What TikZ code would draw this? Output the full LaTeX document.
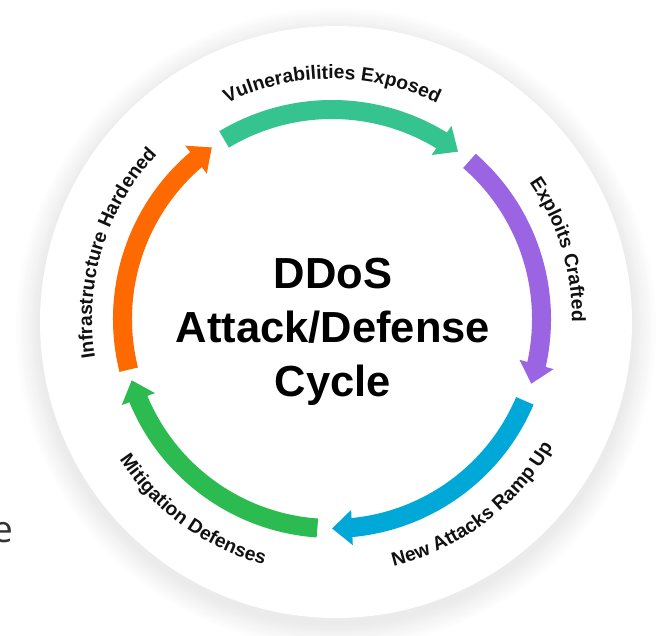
\documentclass[tikz,border=0pt]{standalone}
\usepackage{fontspec}
\setmainfont{Liberation Sans}
\newfontfamily\efont{Open Sans}
\usetikzlibrary{arrows.meta,bending,decorations.text}
\definecolor{cteal}{HTML}{35C38F}
\definecolor{cpurple}{HTML}{9B64E3}
\definecolor{cblue}{HTML}{00A8D8}
\definecolor{cgreen}{HTML}{2CBB50}
\definecolor{corange}{HTML}{FF6A00}
\definecolor{ctext}{HTML}{111111}
\newcommand\lbl{\color{ctext}\bfseries\fontsize{19.3}{22}\selectfont}
\tikzset{
  seg/.style={line width=19pt, -{Triangle[length=20pt,width=34pt]}},
  outlabel/.style={decorate, decoration={text along path, text align=center, text={|\lbl|#1}}},
}
\begin{document}
\begin{tikzpicture}[x=1pt,y=1pt]
\useasboundingbox (0,0) rectangle (659,-636);
\fill[white] (0,0) rectangle (659,-636);
\coordinate (SH) at (336,-328);
\coordinate (D) at (336,-322);
\foreach \k in {0,...,11}{
  \pgfmathsetmacro\rr{320-2*\k}
  \pgfmathsetmacro\cc{0.65*(\k+1)}
  \fill[black!\cc] (SH) circle[radius=\rr pt];
}
\fill[white] (D) circle[radius=296pt];
\coordinate (C) at (332,-319);
\begin{scope}[shift={(C)}]
  \draw[seg, cteal]   (121:209.5pt) arc[start angle=121, end angle=53, radius=209.5pt];
  \draw[seg, cpurple] (49:209.5pt)  arc[start angle=49, end angle=-18, radius=209.5pt];
  \draw[seg, cblue]   (-23:209.5pt) arc[start angle=-23, end angle=-90, radius=209.5pt];
  \draw[seg, cgreen]  (-94:209.5pt) arc[start angle=-94, end angle=-163, radius=209.5pt];
  \draw[seg, corange] (194:209.5pt) arc[start angle=194, end angle=125, radius=209.5pt];
  \path[outlabel={Vulnerabilities Exposed}] (150:240pt) arc[start angle=150, end angle=30, radius=240pt];
  \path[outlabel={Exploits Crafted}] (77:240pt) arc[start angle=77, end angle=-43, radius=240pt];
  \path[outlabel={Infrastructure Hardened}] (223:240pt) arc[start angle=223, end angle=103, radius=240pt];
  \path[outlabel={New Attacks Ramp Up}] (-113:255pt) arc[start angle=-113, end angle=7, radius=255pt];
  \path[outlabel={Mitigation Defenses}] (-186:255pt) arc[start angle=-186, end angle=-66, radius=255pt];
\end{scope}
\node[font=\bfseries\fontsize{43.5}{54}\selectfont, align=center, text=black] (title) at (333,-332) {DDoS\\Attack/Defense\\Cycle};
\node[font=\efont\fontsize{37}{40}\selectfont, text=black!80, anchor=base east, inner sep=0pt] (e) at (13,-542) {e};
\end{tikzpicture}
\end{document}
